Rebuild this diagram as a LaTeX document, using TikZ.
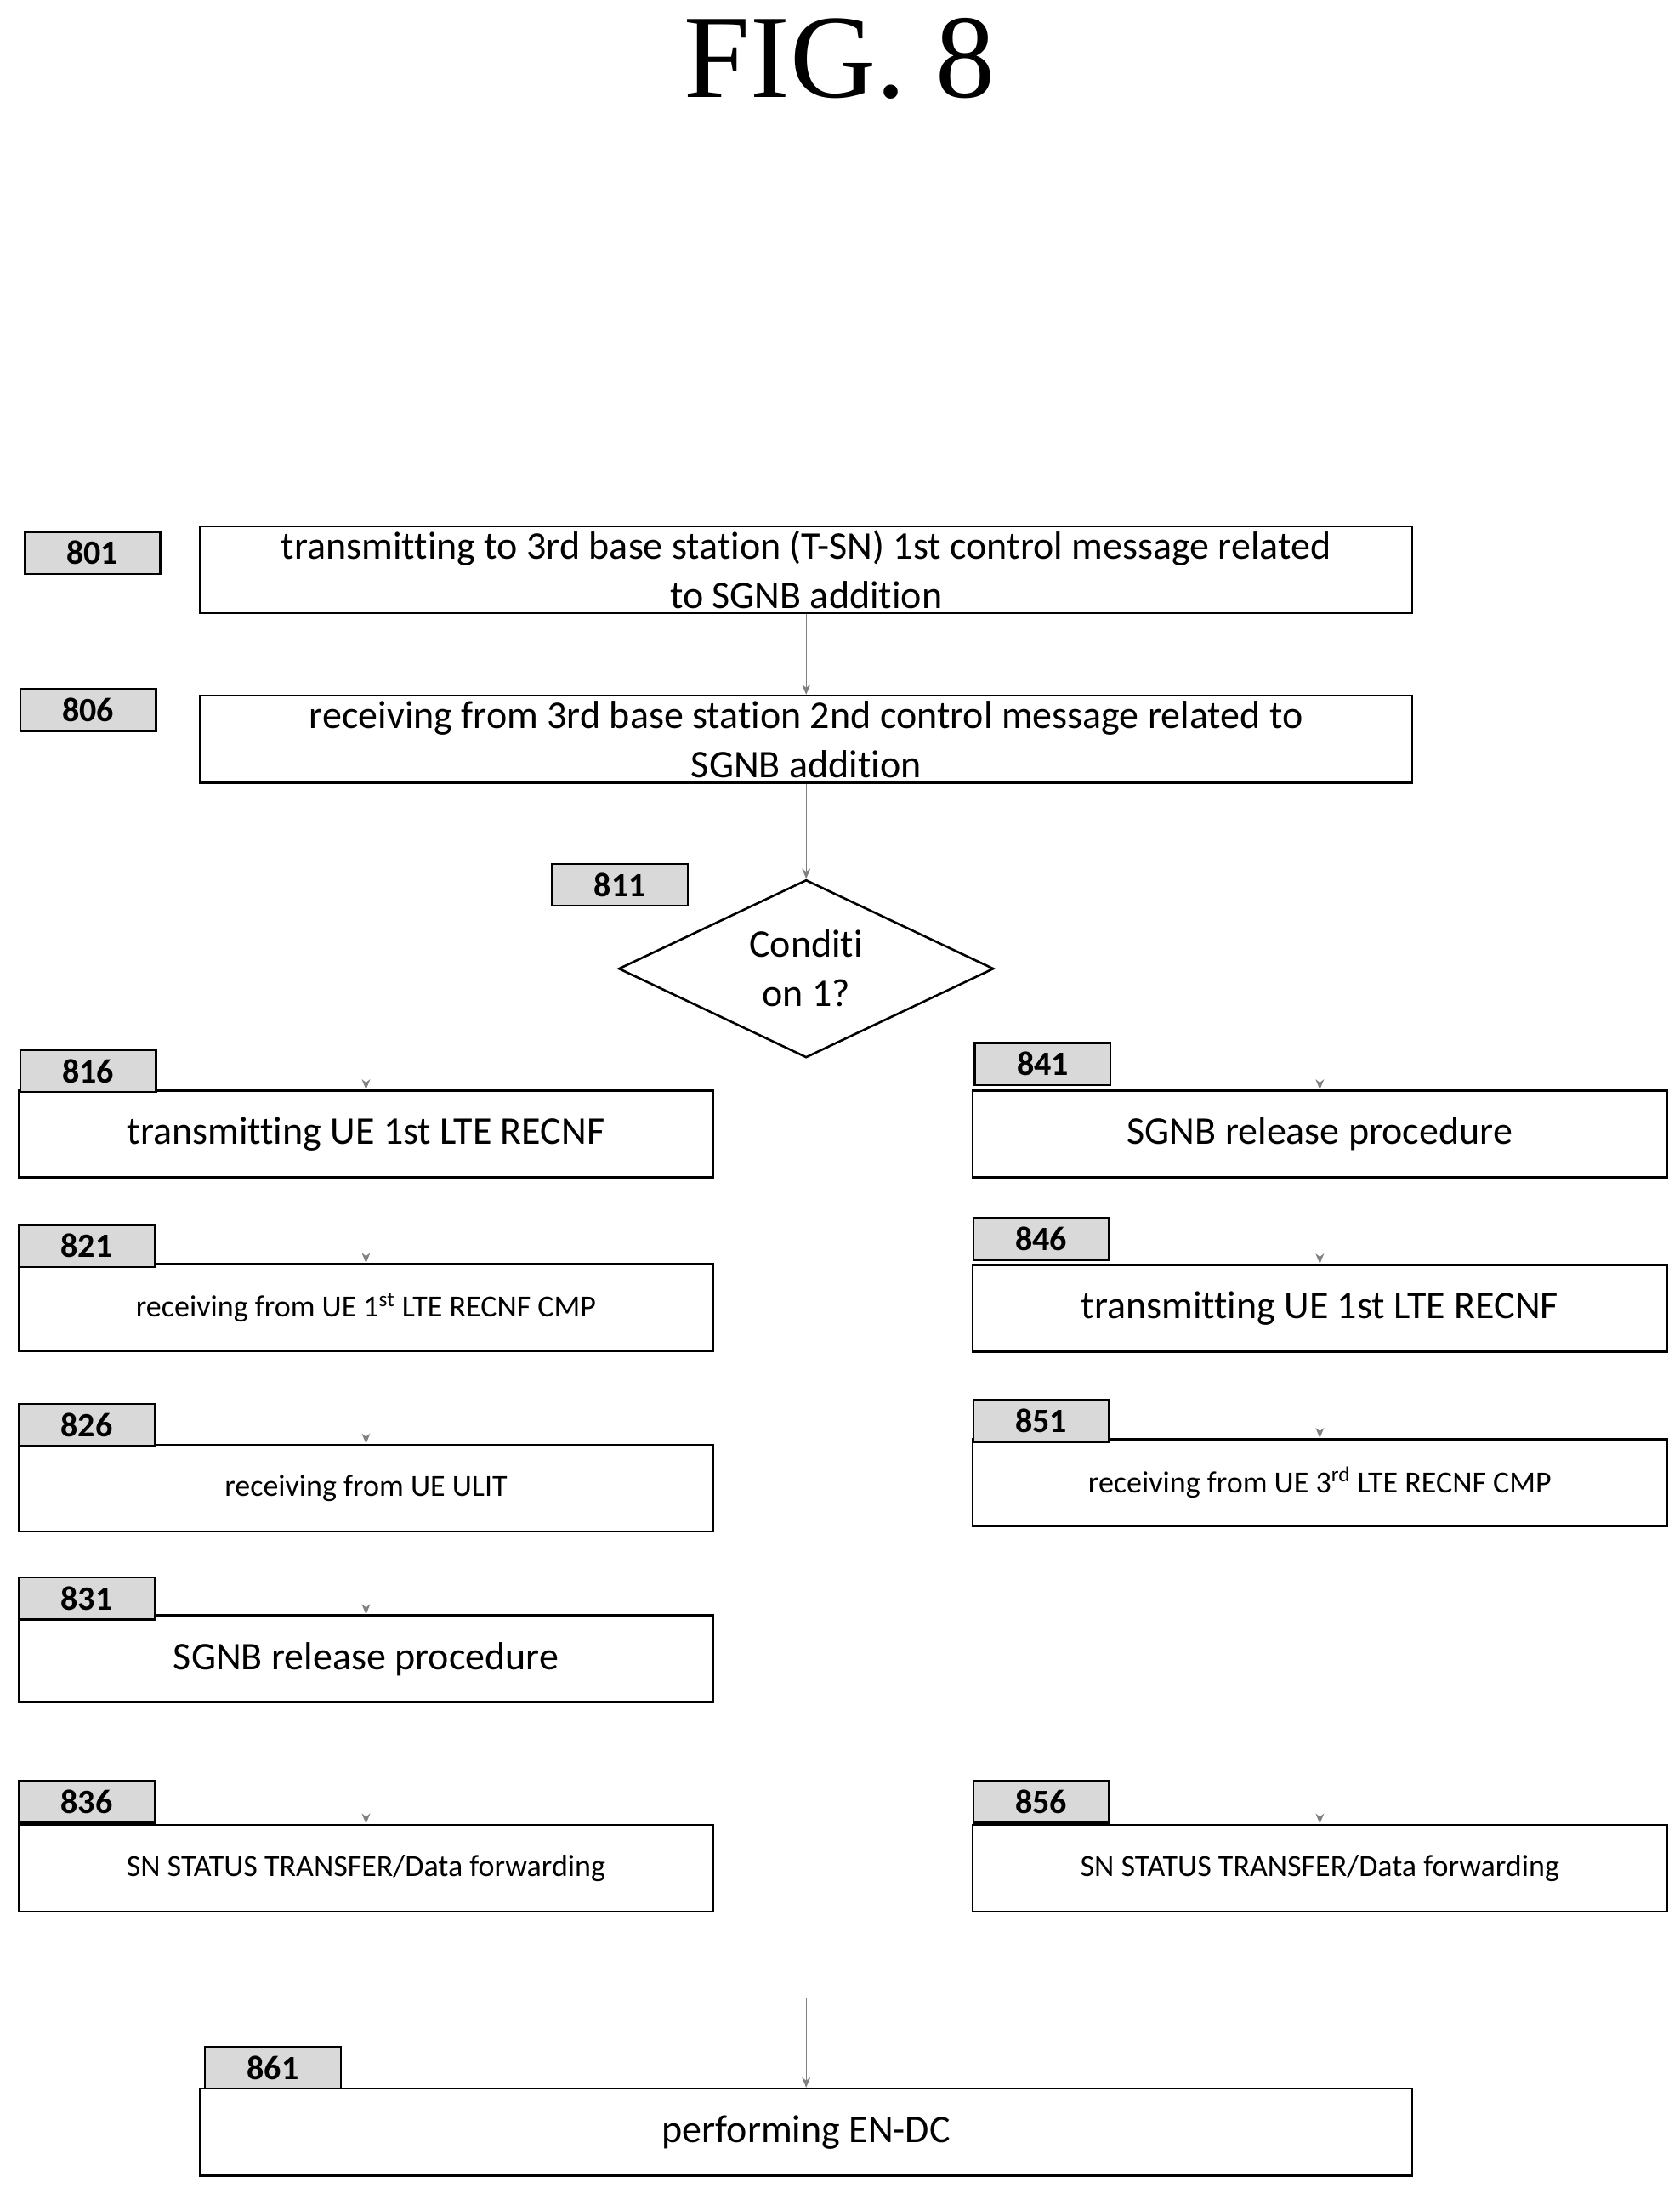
\documentclass[tikz,border=0pt]{standalone}
\usepackage{fontspec}
\setmainfont[Ligatures=NoCommon]{Carlito}
\newfontfamily\figfont{Liberation Serif}
\usetikzlibrary{arrows.meta,shapes.geometric,patterns}
\tikzset{>={Stealth[length=6pt,width=5pt]}}
\def\u{0.823pt}
\begin{document}
\begin{tikzpicture}[x=\u,y=-\u,
  box/.style={draw,line width=1.3pt,minimum width=496*\u,minimum height=62*\u,inner sep=0pt,align=center},
  wide/.style={box,minimum width=866*\u},
  tag/.style={draw,line width=1.2pt,fill=gray!30,minimum width=97*\u,minimum height=30*\u,inner sep=0pt,font=\bfseries\fontsize{20}{22}\selectfont},
  big/.style={font=\fontsize{23}{29}\selectfont},
  small/.style={font=\fontsize{18}{20}\selectfont},
  flow/.style={->,draw=gray,line width=0.5pt}]
\useasboundingbox (0,0) rectangle (1200,1563);

\node[font=\figfont\fontsize{70}{74}\selectfont] (title) at (600,42) {FIG. 8};

%steps of the main path
\node[wide,big] (s801) at (576,407) {transmitting to 3rd base station (T-SN) 1st control message related\\to SGNB addition};
\node[tag] (t801) at (66,395) {801};
\node[wide,big] (s806) at (576,528) {receiving from 3rd base station 2nd control message related to\\SGNB addition};
\node[tag] (t806) at (63,507) {806};
\node[diamond,draw,line width=1.3pt,minimum width=268*\u,minimum height=127*\u,inner sep=0pt,aspect=2.1,big,align=center] (d811) at (576,692) {Conditi\\on 1?};
\node[tag] (t811) at (443,632) {811};

%left branch
\node[box,big] (s816) at (261.5,810) {transmitting UE 1st LTE RECNF};
\node[tag] (t816) at (63,765) {816};
\node[box,small] (s821) at (261.5,934) {receiving from UE 1\textsuperscript{st} LTE RECNF CMP};
\node[tag] (t821) at (62,890) {821};
\node[box,small] (s826) at (261.5,1063) {receiving from UE ULIT};
\node[tag] (t826) at (62,1018) {826};
\node[box,big] (s831) at (261.5,1185) {SGNB release procedure};
\node[tag] (t831) at (62,1142) {831};
\node[box,small] (s836) at (261.5,1334.5) {SN STATUS TRANSFER/Data forwarding};
\node[tag] (t836) at (62,1287) {836};

%right branch
\node[box,big] (s841) at (943,810) {SGNB release procedure};
\node[tag] (t841) at (745,760) {841};
\node[box,big] (s846) at (943,934.5) {transmitting UE 1st LTE RECNF};
\node[tag] (t846) at (744,885) {846};
\node[box,small] (s851) at (943,1059) {receiving from UE 3\textsuperscript{rd} LTE RECNF CMP};
\node[tag] (t851) at (744,1015) {851};
\node[box,small] (s856) at (943,1334.5) {SN STATUS TRANSFER/Data forwarding};
\node[tag] (t856) at (744,1287) {856};

\node[wide,big] (s861) at (576,1523) {performing EN-DC};
\node[tag] (t861) at (195,1477) {861};

\coordinate (m) at (576,1427);

%connectors
\draw[flow] (s801) -- (s806);
\draw[flow] (s806) -- (d811);
\draw[flow] (d811.west) -| (s816.north);
\draw[flow] (d811.east) -| (s841.north);
\draw[flow] (s816) -- (s821);
\draw[flow] (s821) -- (s826);
\draw[flow] (s826) -- (s831);
\draw[flow] (s831) -- (s836);
\draw[flow] (s841) -- (s846);
\draw[flow] (s846) -- (s851);
\draw[flow] (s851) -- (s856);
\draw[draw=gray,line width=0.5pt] (s836.south) |- (m) -| (s856.south);
\draw[flow] (m) -- (s861);
\end{tikzpicture}
\end{document}
